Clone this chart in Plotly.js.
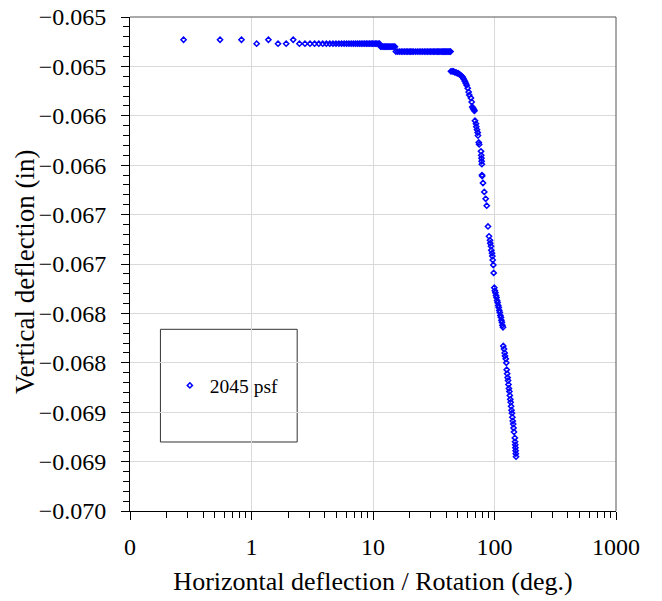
<!DOCTYPE html>
<html>
<head>
<meta charset="utf-8">
<script src="https://cdn.plot.ly/plotly-3.0.1.min.js"></script>
<style>html,body{margin:0;padding:0;background:#fff;}#chart{width:662px;height:601px;}</style>
</head>
<body>
<div id="chart"></div>
<script>
// Horizontal deflection / Rotation (deg.)
var xValues = [
  0.276, 0.551, 0.827, 1.102, 1.378, 1.653, 1.929, 2.204,
  2.480, 2.755, 3.031, 3.306, 3.582, 3.857, 4.133, 4.408, 4.684, 4.959, 5.235, 5.510, 5.786, 6.061,
  6.337, 6.612, 6.888, 7.163, 7.439, 7.714, 7.990, 8.265, 8.541, 8.816, 9.092, 9.367, 9.643, 9.918,
  10.19, 10.47, 10.74, 11.02, 11.30,
  11.57, 11.85, 12.12, 12.40, 12.67, 12.95, 13.22, 13.50, 13.78, 14.05, 14.33, 14.60, 14.88, 15.15,
  15.43, 15.98, 16.53, 17.08, 17.63, 18.19, 18.74, 19.29, 19.84, 20.39, 20.94, 21.49, 22.32, 23.14,
  23.97, 24.80, 25.62, 26.45, 27.28, 28.10, 28.93, 29.76, 30.58, 31.41, 32.24, 33.06, 33.89, 34.72,
  35.54, 36.37, 37.20, 38.02, 38.85, 39.68, 40.50, 41.33, 42.16, 42.98, 43.53,
  43.81, 44.91, 46.01, 47.12, 48.22, 49.32, 50.42, 51.53, 52.63, 53.73, 54.84, 55.94, 57.04, 58.0,
  59.0, 60.2, 61.3, 62.0, 64.0, 64.9, 65.6, 66.5, 67.0, 67.8, 68.3,
  69.1, 70.4, 70.8, 71.8, 72.7, 73.1, 74.2, 74.8, 77.4, 77.8, 78.1, 78.4, 78.7, 78.9, 79.2,
  80.4, 82.4, 84.6, 86.3,
  88.4, 90.1, 91.8, 92.3, 93.6, 94.1, 95.4, 95.9, 96.7, 97.8, 98.5,
  99.6, 100.7, 101.8, 102.9, 104.0, 105.1, 106.2, 107.3, 108.4, 109.5, 110.6, 111.8, 112.9, 114.0,
  115.1, 116.2, 117.5,
  118.1, 119.8, 121.3, 122.0, 123.7, 125.1,
  126.0, 127.1, 128.2, 129.3, 130.4, 131.5, 132.6, 133.7, 134.8, 135.9, 137.0, 138.1, 139.2, 140.3,
  141.4, 142.5, 143.6, 144.7,
  147.0, 147.6, 148.2, 148.7, 149.3, 149.8, 150.4
];
// Vertical deflection (in)
var yValues = [
  -0.06523, -0.06523, -0.06523, -0.06527, -0.06523, -0.06527, -0.06527, -0.06523,
  -0.06527, -0.06527, -0.06527, -0.06527, -0.06527, -0.06527, -0.06527, -0.06527, -0.06527, -0.06527, -0.06527, -0.06527, -0.06527, -0.06527,
  -0.06527, -0.06527, -0.06527, -0.06527, -0.06527, -0.06527, -0.06527, -0.06527, -0.06527, -0.06527, -0.06527, -0.06527, -0.06527, -0.06527,
  -0.06527, -0.06527, -0.06527, -0.06527, -0.06527,
  -0.06530, -0.06530, -0.06530, -0.06530, -0.06530, -0.06530, -0.06530, -0.06530, -0.06530, -0.06530, -0.06530, -0.06530, -0.06530, -0.06530,
  -0.06535, -0.06535, -0.06535, -0.06535, -0.06535, -0.06535, -0.06535, -0.06535, -0.06535, -0.06535, -0.06535, -0.06535, -0.06535, -0.06535,
  -0.06535, -0.06535, -0.06535, -0.06535, -0.06535, -0.06535, -0.06535, -0.06535, -0.06535, -0.06535, -0.06535, -0.06535, -0.06535, -0.06535,
  -0.06535, -0.06535, -0.06535, -0.06535, -0.06535, -0.06535, -0.06535, -0.06535, -0.06535, -0.06535, -0.06535,
  -0.06555, -0.06555, -0.06555, -0.06556, -0.06556, -0.06557, -0.06557, -0.06558, -0.06559, -0.06560, -0.06561, -0.06563, -0.06565, -0.06567,
  -0.06569, -0.06572, -0.06576, -0.06579, -0.06582, -0.06586, -0.06591, -0.06592, -0.06593, -0.06594, -0.06595,
  -0.06605, -0.06608, -0.06611, -0.06614, -0.06617, -0.06620, -0.06627, -0.06629, -0.06636, -0.06640, -0.06643, -0.06646, -0.06649, -0.06660, -0.06661,
  -0.06668, -0.06677, -0.06684, -0.06691,
  -0.06712, -0.06722, -0.06726, -0.06729, -0.06732, -0.06736, -0.06739, -0.06742, -0.06746, -0.06751, -0.06759,
  -0.06774, -0.06777, -0.06779, -0.06782, -0.06784, -0.06787, -0.06789, -0.06792, -0.06794, -0.06797, -0.06799, -0.06802, -0.06804, -0.06807,
  -0.06809, -0.06812, -0.06814,
  -0.06833, -0.06836, -0.06840, -0.06843, -0.06846, -0.06850,
  -0.06857, -0.06861, -0.06865, -0.06868, -0.06872, -0.06876, -0.06879, -0.06883, -0.06887, -0.06890, -0.06894, -0.06898, -0.06901, -0.06905,
  -0.06909, -0.06912, -0.06916, -0.06920,
  -0.06926, -0.06930, -0.06933, -0.06936, -0.06939, -0.06942, -0.06945
];
var seriesName = '2045 psf';

var xTickVals = [0.1, 1, 10, 100, 1000];
var xTickText = ['0', '1', '10', '100', '1000'];
var yTickVals = [-0.0650, -0.0655, -0.0660, -0.0665, -0.0670, -0.0675, -0.0680, -0.0685, -0.0690, -0.0695, -0.0700];
var yTickText = ['\u22120.065', '\u22120.065', '\u22120.066', '\u22120.066', '\u22120.067', '\u22120.067',
                 '\u22120.068', '\u22120.068', '\u22120.069', '\u22120.069', '\u22120.070'];
var xTitle = 'Horizontal deflection / Rotation (deg.)';
var yTitle = 'Vertical deflection (in)';

var trace = {
  x: xValues, y: yValues, name: seriesName,
  type: 'scatter', mode: 'markers',
  marker: {symbol: 'diamond-open', size: 4, color: '#0000ff', line: {width: 1.5, color: '#0000ff'}}
};

var layout = {
  width: 662, height: 601,
  margin: {l: 130, r: 46, t: 17, b: 90},
  paper_bgcolor: '#fff', plot_bgcolor: '#fff',
  font: {family: 'Liberation Serif', size: 24, color: '#000'},
  showlegend: true,
  legend: {x: 0.082, y: 0.2536, xanchor: 'left', yanchor: 'middle',
           bgcolor: 'rgba(0,0,0,0)', borderwidth: 0, font: {size: 19.5}},
  xaxis: {
    type: 'log', range: [-1, 3], tickmode: 'array', tickvals: xTickVals, ticktext: xTickText,
    ticks: 'outside', ticklen: 8, tickcolor: '#000', tickwidth: 1,
    showline: true, linecolor: '#000', linewidth: 1,
    showgrid: true, gridcolor: '#d9d9d9', gridwidth: 1, zeroline: false,
    minor: {dtick: 'D1', ticks: 'outside', ticklen: 6, tickcolor: '#000', showgrid: false},
    ticklabelstandoff: 6,
    title: {text: xTitle, font: {size: 26}, standoff: 13}
  },
  yaxis: {
    range: [-0.070, -0.065], tickmode: 'array', tickvals: yTickVals, ticktext: yTickText,
    ticks: 'outside', ticklen: 8, tickcolor: '#000', tickwidth: 1,
    showline: true, linecolor: '#000', linewidth: 1,
    showgrid: true, gridcolor: '#d9d9d9', gridwidth: 1, zeroline: false,
    minor: {dtick: 0.0001, ticks: 'outside', ticklen: 6, tickcolor: '#000', showgrid: false},
    ticklabelstandoff: 10
  },
  annotations: [
    {text: yTitle, xref: 'paper', yref: 'paper', x: 0, y: 0.484, xanchor: 'center', yanchor: 'middle',
     xshift: -105, textangle: -90, showarrow: false, font: {size: 27}}
  ],
  shapes: [
    {type: 'line', xref: 'paper', yref: 'paper', x0: 0, x1: 1, y0: 1, y1: 1, line: {color: '#555', width: 1}},
    {type: 'line', xref: 'paper', yref: 'paper', x0: 1, x1: 1, y0: 0, y1: 1, line: {color: '#555', width: 1}},
    {type: 'rect', xref: 'paper', yref: 'paper', x0: 0.0626, x1: 0.344, y0: 0.1397, y1: 0.3678,
     line: {color: '#333', width: 1}, fillcolor: '#fff', layer: 'below'}
  ]
};

Plotly.newPlot('chart', [trace], layout, {displayModeBar: false, staticPlot: true});
</script>
</body>
</html>
